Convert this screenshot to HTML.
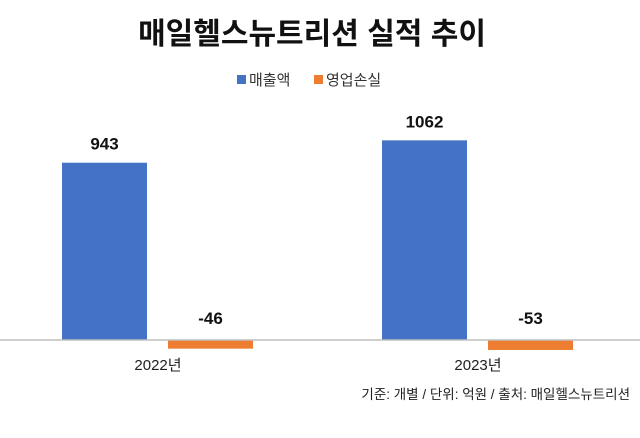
<!DOCTYPE html>
<html><head><meta charset="utf-8">
<style>
body{margin:0;background:#fff;}
svg text{font-family:"Liberation Sans","Noto Sans CJK KR",sans-serif;}
</style></head>
<body>
<svg width="640" height="433" viewBox="0 0 640 433" xmlns="http://www.w3.org/2000/svg">
<text x="312" y="44" text-anchor="middle" font-size="30" font-weight="bold" fill="#111">매일헬스뉴트리션 실적 추이</text>
<g>
<rect x="237" y="75" width="9" height="9" fill="#4472C4"/>
<text x="249" y="85" font-size="15" fill="#333">매출액</text>
<rect x="314" y="75" width="9" height="9" fill="#ED7D31"/>
<text x="326" y="85" font-size="15" fill="#333">영업손실</text>
</g>
<g id="plot"></g>
<line x1="0" y1="340" x2="640" y2="340" stroke="#bfbfbf" stroke-width="1.5"/>
<text x="630" y="399" text-anchor="end" font-size="13.5" fill="#222">기준: 개별 / 단위: 억원 / 출처: 매일헬스뉴트리션</text>
</svg>
<script>
const categories = ["2022년", "2023년"];
const sales = [943, 1062];
const loss = [-46, -53];
const ns = "http://www.w3.org/2000/svg";
const g = document.getElementById("plot");
const baseY = 340, scale = 0.1880;
function y(v){ return baseY - v*scale; }
function cx(i){ return 158 + i*320; }
const bw = 85;
function mk(tag, attrs){ const e=document.createElementNS(ns,tag); for(const k in attrs) e.setAttribute(k,attrs[k]); g.appendChild(e); return e; }
categories.forEach((c,i)=>{
  const x0 = cx(i);
  const sb = mk("rect",{x:x0-96,y:y(sales[i]),width:bw,height:baseY-y(sales[i]),fill:"#4472C4"});
  
  
  const st = mk("text",{x:x0-96+bw/2,y:y(sales[i])-13,"text-anchor":"middle","font-size":"17","font-weight":"bold",fill:"#111"});
  st.textContent = sales[i];
  
  
  const lb = mk("rect",{x:x0+10,y:baseY,width:bw,height:y(loss[i])-baseY,fill:"#ED7D31"});
  
  
  const lt = mk("text",{x:x0+10+bw/2,y:baseY-16,"text-anchor":"middle","font-size":"17","font-weight":"bold",fill:"#111"});
  lt.textContent = loss[i];
  
  
  const ct = mk("text",{x:x0,y:370,"text-anchor":"middle","font-size":"15",fill:"#222"});
  ct.textContent = c;
  
  
});
</script>
</body></html>
